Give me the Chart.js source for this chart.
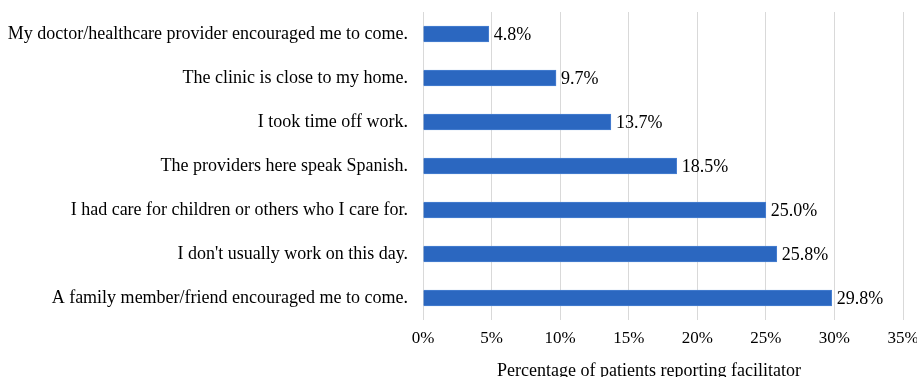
<!DOCTYPE html>
<html>
<head>
<meta charset="utf-8">
<script src="https://cdn.jsdelivr.net/npm/chart.js@4/dist/chart.umd.min.js"></script>
<style>
  html, body { margin: 0; padding: 0; background: #fff; overflow: hidden; }
  #wrap { width: 917px; height: 385px; position: relative; }
</style>
</head>
<body>
<div id="wrap"><canvas id="facilitatorChart"></canvas></div>
<script>
// Chart values
const reasons = [
  'My doctor/healthcare provider encouraged me to come.',
  'The clinic is close to my home.',
  'I took time off work.',
  'The providers here speak Spanish.',
  'I had care for children or others who I care for.',
  "I don't usually work on this day.",
  'A family member/friend encouraged me to come.'
];
const percents = [4.8, 9.7, 13.7, 18.5, 25.0, 25.8, 29.8];
const axisTitle = 'Percentage of patients reporting facilitator';

const serif = '"Liberation Serif", "Times New Roman", serif';

// Value labels to the right of each bar, plus the x axis title
const valueLabels = {
  id: 'valueLabels',
  afterDatasetsDraw(chart) {
    const ctx = chart.ctx;
    const meta = chart.getDatasetMeta(0);
    ctx.save();
    ctx.font = '18px ' + serif;
    ctx.fillStyle = '#000';
    ctx.textAlign = 'left';
    ctx.textBaseline = 'middle';
    meta.data.forEach((bar, i) => {
      ctx.fillText(percents[i].toFixed(1) + '%', bar.x + 5, bar.y + 1);
    });
    // axis title sits a little left of the plot centre in the original
    const area = chart.chartArea;
    ctx.textAlign = 'center';
    ctx.textBaseline = 'alphabetic';
    ctx.fillText(axisTitle, (area.left + area.right) / 2 - 14, area.bottom + 56);
    ctx.restore();
  }
};

const ctx = document.getElementById('facilitatorChart').getContext('2d');
new Chart(ctx, {
  type: 'bar',
  data: {
    labels: reasons,
    datasets: [{
      data: percents,
      backgroundColor: '#2b67c0',
      borderColor: '#4a80d2',
      borderWidth: 1,
      barThickness: 16
    }]
  },
  options: {
    indexAxis: 'y',
    responsive: true,
    maintainAspectRatio: false,
    animation: false,
    layout: { padding: { top: 12, right: 14, bottom: 0, left: 0 } },
    plugins: {
      legend: { display: false },
      tooltip: { enabled: false }
    },
    scales: {
      x: {
        min: 0,
        max: 35,
        ticks: {
          stepSize: 5,
          padding: 8,
          color: '#000',
          font: { family: serif, size: 17 },
          callback: v => v + '%'
        },
        grid: { color: '#d9d9d9', drawTicks: false },
        border: { display: false },
        title: { display: false, text: axisTitle },
        afterFit: scale => {
          scale.height = 65;
          scale.paddingLeft = 0;
          scale.paddingRight = 0;
        }
      },
      y: {
        ticks: {
          padding: 15,
          color: '#000',
          font: { family: serif, size: 18 }
        },
        grid: { display: false, drawTicks: false },
        border: { display: false },
        afterFit: scale => {
          scale.width = 423;
          scale.paddingTop = 0;
          scale.paddingBottom = 0;
        }
      }
    }
  },
  plugins: [valueLabels]
});
</script>
</body>
</html>
